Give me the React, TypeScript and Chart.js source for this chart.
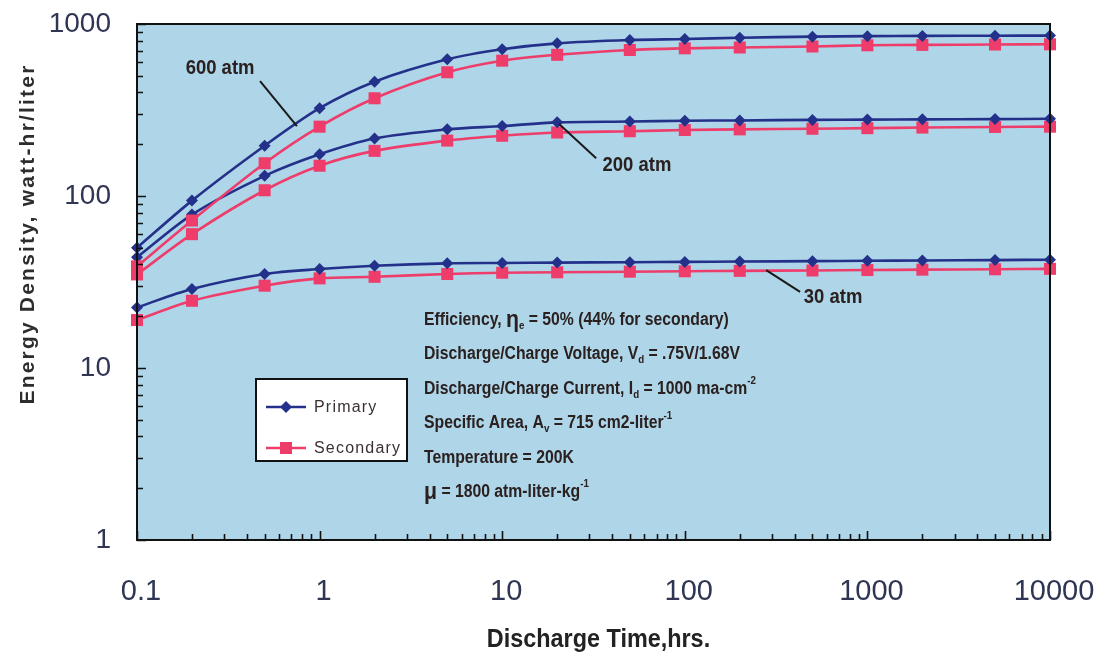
import React, { useEffect, useRef } from 'react';
import { Chart, registerables } from 'chart.js';

Chart.register(...registerables);

// ---------- data ----------
const times = [0.1, 0.2, 0.5, 1, 2, 5, 10, 20, 50, 100, 200, 500, 1000, 2000, 5000, 10000];
const primary600 = [50, 94, 196, 324, 462, 623, 713, 772, 807, 818, 832, 844, 850, 853, 855, 856];
const secondary600 = [39, 72, 155, 253, 370, 524, 612, 662, 706, 722, 730, 740, 752, 756, 760, 762];
const primary200 = [44, 78, 131, 175, 216, 244, 255, 268, 271, 274, 275, 277, 278, 279, 280, 281];
const secondary200 = [35, 60, 108, 150, 183, 210, 224, 234, 238, 242, 244, 246, 248, 250, 252, 253];
const primary30 = [22.5, 28.8, 35.2, 37.6, 39.3, 40.6, 40.8, 41, 41.2, 41.4, 41.6, 41.8, 42, 42.2, 42.4, 42.6];
const secondary30 = [19.0, 24.6, 30.1, 33.2, 33.9, 35.2, 35.8, 36, 36.3, 36.5, 36.7, 36.9, 37.1, 37.3, 37.5, 37.7];

const xTickValues = [0.1, 1, 10, 100, 1000, 10000];
const xTickLabels = ['0.1', '1', '10', '100', '1000', '10000'];
const yTickValues = [1, 10, 100, 1000];
const yTickLabels = ['1', '10', '100', '1000'];

const seriesNames = ['Primary', 'Secondary'];
const xTitle = 'Discharge Time,hrs.';
const yTitle = 'Energy Density, watt-hr/liter';

// pressure labels, anchored in data coordinates (label centre, leader line start, leader line end)
const pressureLabels = [
  { text: '600 atm', at: [0.285, 555], from: [0.472, 466], to: [0.751, 255] },
  { text: '200 atm', at: [54.7, 151], from: [32.7, 166], to: [20.5, 262] },
  { text: '30 atm', at: [649, 25.9], from: [428, 27.7], to: [279, 37.1] },
];

type Seg = { t: string; k?: 'sub' | 'sup' | 'big' };
const infoLines: Seg[][] = [
  [{ t: 'Efficiency, ' }, { t: 'η', k: 'big' }, { t: 'e', k: 'sub' }, { t: ' = 50% (44% for secondary)' }],
  [{ t: 'Discharge/Charge Voltage, V' }, { t: 'd', k: 'sub' }, { t: ' = .75V/1.68V' }],
  [{ t: 'Discharge/Charge Current, I' }, { t: 'd', k: 'sub' }, { t: ' = 1000 ma-cm' }, { t: '-2', k: 'sup' }],
  [{ t: 'Specific Area, A' }, { t: 'v', k: 'sub' }, { t: ' = 715 cm2-liter' }, { t: '-1', k: 'sup' }],
  [{ t: 'Temperature = 200K' }],
  [{ t: 'μ', k: 'big' }, { t: ' = 1800 atm-liter-kg' }, { t: '-1', k: 'sup' }],
];

// ---------- style ----------
const FONT = '"Liberation Sans", Arial, Helvetica, sans-serif';
const PRIMARY = '#24318a';
const SECONDARY = '#ee3d6b';
const PLOT_BG = '#aed5e8';
const TICK_COLOR = '#2f3552';
const TEXT_DARK = '#2a2020';

function drawRich(ctx: CanvasRenderingContext2D, x: number, y: number, segs: Seg[], size: number, sx: number) {
  ctx.save();
  ctx.translate(x, y);
  ctx.scale(sx, 1);
  ctx.fillStyle = TEXT_DARK;
  ctx.textAlign = 'left';
  ctx.textBaseline = 'alphabetic';
  let cx = 0;
  for (const s of segs) {
    let fs = size;
    let dy = 0;
    if (s.k === 'sub') { fs = size * 0.62; dy = size * 0.22; }
    else if (s.k === 'sup') { fs = size * 0.62; dy = -size * 0.55; }
    else if (s.k === 'big') { fs = size * 1.35; dy = size * 0.12; }
    ctx.font = `bold ${fs}px ${FONT}`;
    ctx.fillText(s.t, cx, dy);
    cx += ctx.measureText(s.t).width;
  }
  ctx.restore();
}

function marker(ctx: CanvasRenderingContext2D, kind: 'diamond' | 'square', x: number, y: number, color: string) {
  ctx.save();
  ctx.fillStyle = color;
  ctx.beginPath();
  if (kind === 'diamond') {
    const r = 6;
    ctx.moveTo(x, y - r); ctx.lineTo(x + r, y); ctx.lineTo(x, y + r); ctx.lineTo(x - r, y);
    ctx.closePath();
  } else {
    const h = 6;
    ctx.rect(x - h, y - h, 2 * h, 2 * h);
  }
  ctx.fill();
  ctx.restore();
}

const decorPlugin = {
  id: 'decor',
  beforeDatasetsDraw(chart: any) {
    const { ctx, chartArea: a } = chart;
    ctx.save();
    ctx.fillStyle = PLOT_BG;
    ctx.fillRect(a.left, a.top, a.right - a.left, a.bottom - a.top);
    ctx.restore();
  },
  afterDatasetsDraw(chart: any) {
    const { ctx, chartArea: a } = chart;
    const xs = chart.scales.x;
    const ys = chart.scales.y;
    ctx.save();
    // frame
    ctx.strokeStyle = '#111';
    ctx.lineWidth = 2;
    ctx.strokeRect(a.left, a.top, a.right - a.left, a.bottom - a.top);
    // inner ticks
    ctx.lineWidth = 1.6;
    ctx.beginPath();
    for (let d = 0; d <= 3; d++) {
      for (let m = 1; m <= 9; m++) {
        const v = m * Math.pow(10, d);
        if (v > 1000) break;
        const py = Math.round(ys.getPixelForValue(v)) + 0.5;
        const len = m === 1 ? 9 : 6;
        ctx.moveTo(a.left, py); ctx.lineTo(a.left + len, py);
      }
    }
    for (let d = -1; d <= 4; d++) {
      for (let m = 1; m <= 9; m++) {
        const v = m * Math.pow(10, d);
        if (v > 10000 + 1e-9) break;
        const px = Math.round(xs.getPixelForValue(v)) + 0.5;
        const len = m === 1 ? 9 : 6;
        ctx.moveTo(px, a.bottom); ctx.lineTo(px, a.bottom - len);
      }
    }
    ctx.stroke();

    // pressure labels
    ctx.strokeStyle = '#1a1a1a';
    ctx.lineWidth = 2;
    for (const p of pressureLabels) {
      const fx = xs.getPixelForValue(p.from[0]);
      const fy = ys.getPixelForValue(p.from[1]);
      const tx = xs.getPixelForValue(p.to[0]);
      const ty = ys.getPixelForValue(p.to[1]);
      ctx.beginPath(); ctx.moveTo(fx, fy); ctx.lineTo(tx, ty); ctx.stroke();
      const lx = xs.getPixelForValue(p.at[0]);
      const ly = ys.getPixelForValue(p.at[1]);
      ctx.save();
      ctx.translate(lx, ly);
      ctx.scale(0.88, 1);
      ctx.font = `bold 21px ${FONT}`;
      ctx.fillStyle = TEXT_DARK;
      ctx.textAlign = 'center';
      ctx.textBaseline = 'middle';
      ctx.fillText(p.text, 0, 0);
      ctx.restore();
    }

    // parameter text block
    const bx = a.left + 287;
    const by = a.top + 301;
    infoLines.forEach((line, i) => drawRich(ctx, bx, by + i * 34.4, line, 17.5, 0.9));

    // legend box
    const lx = a.left + 119;
    const ly = a.top + 355;
    ctx.fillStyle = '#ffffff';
    ctx.fillRect(lx, ly, 151, 82);
    ctx.strokeStyle = '#111';
    ctx.lineWidth = 2;
    ctx.strokeRect(lx, ly, 151, 82);
    const rows = [
      { name: seriesNames[0], color: PRIMARY, kind: 'diamond' as const, y: ly + 28 },
      { name: seriesNames[1], color: SECONDARY, kind: 'square' as const, y: ly + 69 },
    ];
    for (const r of rows) {
      ctx.strokeStyle = r.color;
      ctx.lineWidth = 2.5;
      ctx.beginPath(); ctx.moveTo(lx + 10, r.y); ctx.lineTo(lx + 50, r.y); ctx.stroke();
      marker(ctx, r.kind, lx + 30, r.y, r.color);
      ctx.save();
      ctx.font = `16px ${FONT}`;
      (ctx as any).letterSpacing = '1.2px';
      ctx.fillStyle = '#3a3030';
      ctx.textAlign = 'left';
      ctx.textBaseline = 'middle';
      ctx.fillText(r.name, lx + 58, r.y + 1);
      ctx.restore();
    }

    // axis titles
    ctx.save();
    ctx.translate(28, 234);
    ctx.rotate(-Math.PI / 2);
    ctx.font = `bold 21px ${FONT}`;
    (ctx as any).letterSpacing = '2.2px';
    ctx.fillStyle = '#2d2d2d';
    ctx.textAlign = 'center';
    ctx.textBaseline = 'middle';
    ctx.fillText(yTitle, 0, 0);
    ctx.restore();

    ctx.save();
    ctx.translate((a.left + a.right) / 2 + 5, 640);
    ctx.scale(0.9, 1);
    ctx.font = `bold 26px ${FONT}`;
    ctx.fillStyle = '#222';
    ctx.textAlign = 'center';
    ctx.textBaseline = 'middle';
    ctx.fillText(xTitle, 0, 0);
    ctx.restore();

    ctx.restore();
  },
};

function ds(label: string, values: number[], primary: boolean) {
  const color = primary ? PRIMARY : SECONDARY;
  return {
    label,
    data: times.map((t, i) => ({ x: t, y: values[i] })),
    borderColor: color,
    backgroundColor: color,
    borderWidth: 2.6,
    pointStyle: primary ? 'rectRot' : 'rect',
    pointRadius: primary ? 6 : 8.5,
    pointBorderWidth: 0,
    tension: 0.3,
    clip: false,
  };
}

export default function App() {
  const ref = useRef<HTMLCanvasElement | null>(null);
  useEffect(() => {
    if (!ref.current) return;
    const chart = new Chart(ref.current, {
      type: 'line',
      data: {
        datasets: [
          ds('Primary 600 atm', primary600, true),
          ds('Secondary 600 atm', secondary600, false),
          ds('Primary 200 atm', primary200, true),
          ds('Secondary 200 atm', secondary200, false),
          ds('Primary 30 atm', primary30, true),
          ds('Secondary 30 atm', secondary30, false),
        ] as any,
      },
      options: {
        animation: false,
        responsive: true,
        maintainAspectRatio: false,
        devicePixelRatio: 1,
        layout: { padding: { left: 0, right: 47, top: 24, bottom: 0 } },
        plugins: { legend: { display: false }, tooltip: { enabled: false }, title: { display: false } },
        scales: {
          x: {
            type: 'logarithmic',
            min: 0.1,
            max: 10000,
            border: { display: false },
            grid: { display: false, drawTicks: false },
            afterBuildTicks: (s: any) => { s.ticks = xTickValues.map((v) => ({ value: v })); },
            afterFit: (s: any) => { s.height = 120; s.paddingLeft = 0; s.paddingRight = 0; },
            ticks: {
              autoSkip: false,
              maxRotation: 0,
              padding: 35,
              labelOffset: 4,
              color: TICK_COLOR,
              font: { family: FONT, size: 29 },
              callback: (_v: any, i: number) => xTickLabels[i],
            },
          },
          y: {
            type: 'logarithmic',
            min: 1,
            max: 1000,
            border: { display: false },
            grid: { display: false, drawTicks: false },
            afterBuildTicks: (s: any) => { s.ticks = yTickValues.map((v) => ({ value: v })); },
            afterFit: (s: any) => { s.width = 137; s.paddingTop = 0; s.paddingBottom = 0; },
            ticks: {
              autoSkip: false,
              padding: 26,
              color: TICK_COLOR,
              font: { family: FONT, size: 28 },
              callback: (_v: any, i: number) => yTickLabels[i],
            },
          },
        },
      } as any,
      plugins: [decorPlugin],
    });
    return () => chart.destroy();
  }, []);
  return (
    <div style={{ position: 'fixed', left: 0, top: 0, width: 1097, height: 660, background: '#fff' }}>
      <canvas ref={ref} />
    </div>
  );
}
